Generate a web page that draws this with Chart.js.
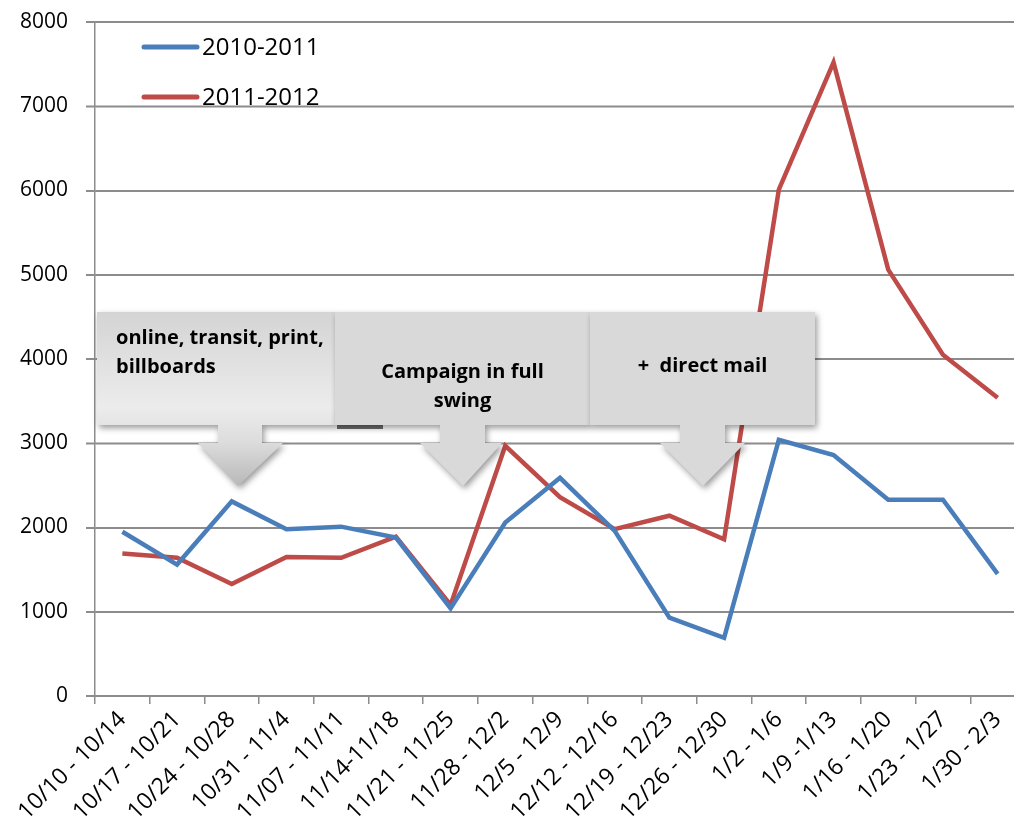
<!DOCTYPE html>
<html>
<head>
<meta charset="utf-8">
<script src="https://cdn.jsdelivr.net/npm/chart.js@4/dist/chart.umd.min.js"></script>
<style>
  body { margin: 0; overflow: hidden; background: #fff; }
  #wrap { position: absolute; left: 0; top: 0; width: 1030px; height: 835px; }
</style>
</head>
<body>
<div id="wrap"><canvas id="salesChart" width="1030" height="835"></canvas></div>
<script>
// weekly ranges on the x axis
const weeks = ['10/10 - 10/14', '10/17 - 10/21', '10/24 - 10/28', '10/31 - 11/4', '11/07 - 11/11',
    '11/14-11/18', '11/21 - 11/25', '11/28 - 12/2', '12/5 - 12/9', '12/12 - 12/16', '12/19 - 12/23',
    '12/26 - 12/30', '1/2 - 1/6', '1/9 -1/13', '1/16 - 1/20', '1/23 - 1/27', '1/30 - 2/3'];

const season1 = [1950, 1560, 2310, 1980, 2010, 1880, 1040, 2060, 2590, 1960, 930, 690, 3040, 2860, 2330, 2330, 1450];
const season2 = [1690, 1640, 1330, 1650, 1640, 1890, 1080, 2970, 2360, 1980, 2140, 1860, 6010, 7520, 5060, 4050, 3540];

const seriesNames = ['2010-2011', '2011-2012'];
const seriesColors = ['#4a7ebb', '#be4b48'];

const yMax = 8000;
const yStep = 1000;

const gridGray = '#8c8c8c';

// horizontal grid + left tick marks, drawn from the y scale ticks
const yGridPlugin = {
    id: 'yGrid',
    beforeDatasetsDraw(chart) {
        const ctx = chart.ctx;
        const ys = chart.scales.y;
        const area = chart.chartArea;
        ctx.save();
        ctx.strokeStyle = gridGray;
        ctx.lineWidth = 1.5;
        ys.ticks.forEach(t => {
            const py = Math.round(ys.getPixelForValue(t.value)) + 0.25;
            ctx.beginPath();
            ctx.moveTo(area.left - 9, py);
            ctx.lineTo(area.right, py);
            ctx.stroke();
        });
        ctx.restore();
    }
};

// legend drawn inside the plot, top left
const legendPlugin = {
    id: 'insideLegend',
    afterDraw(chart) {
        const ctx = chart.ctx;
        ctx.save();
        chart.data.datasets.forEach((ds, i) => {
            const y = 47 + i * 50;
            ctx.strokeStyle = ds.borderColor;
            ctx.lineWidth = 5;
            ctx.lineCap = 'round';
            ctx.beginPath();
            ctx.moveTo(144, y);
            ctx.lineTo(197, y);
            ctx.stroke();
            ctx.fillStyle = '#000';
            ctx.font = '24px "Open Sans"';
            ctx.textBaseline = 'middle';
            ctx.fillText(ds.label, 202, y + 1);
        });
        ctx.restore();
    }
};

// the three grey callouts with arrows
const callouts = [
    { x0: 97, x1: 335, stem: [218, 262], head: [198, 283], tip: 238, lines: ['online, transit, print,', 'billboards'], align: 'left', textY: 338, gradient: true },
    { x0: 335, x1: 590, stem: [440, 485], head: [420, 502], tip: 463, lines: ['Campaign in full', 'swing'], align: 'center', textY: 372, gradient: false },
    { x0: 590, x1: 815, stem: [680, 725], head: [660, 745], tip: 703, lines: ['+  direct mail'], align: 'center', textY: 366, gradient: false }
];

function calloutPath(ctx, c, top, bottom, headTop, tipY) {
    ctx.beginPath();
    ctx.moveTo(c.x0, top);
    ctx.lineTo(c.x1, top);
    ctx.lineTo(c.x1, bottom);
    ctx.lineTo(c.stem[1], bottom);
    ctx.lineTo(c.stem[1], headTop);
    ctx.lineTo(c.head[1], headTop);
    ctx.lineTo(c.tip, tipY);
    ctx.lineTo(c.head[0], headTop);
    ctx.lineTo(c.stem[0], headTop);
    ctx.lineTo(c.stem[0], bottom);
    ctx.lineTo(c.x0, bottom);
    ctx.closePath();
}

const calloutPlugin = {
    id: 'callouts',
    afterDatasetsDraw(chart) {
        const ctx = chart.ctx;
        const top = 312, bottom = 425, headTop = 443, tipY = 486;
        ctx.save();
        // odd dark shadow strip under the middle box
        ctx.fillStyle = 'rgba(60,60,60,0.75)';
        ctx.fillRect(337, 425, 46, 4);
        callouts.forEach(c => {
            let fill = '#d9d9d9';
            if (c.gradient) {
                const g = ctx.createLinearGradient(0, top, 0, tipY);
                g.addColorStop(0, '#d4d4d4');
                g.addColorStop(0.55, '#ececec');
                g.addColorStop(0.75, '#dcdcdc');
                g.addColorStop(1, '#b8b8b8');
                fill = g;
            }
            ctx.save();
            ctx.shadowColor = 'rgba(0,0,0,0.4)';
            ctx.shadowBlur = 6;
            ctx.shadowOffsetX = 2;
            ctx.shadowOffsetY = 3;
            ctx.fillStyle = fill;
            calloutPath(ctx, c, top, bottom, headTop, tipY);
            ctx.fill();
            ctx.restore();

            ctx.fillStyle = '#000';
            ctx.font = 'bold 20px "Open Sans"';
            ctx.textBaseline = 'middle';
            c.lines.forEach((t, k) => {
                if (c.align === 'left') {
                    ctx.textAlign = 'left';
                    ctx.fillText(t, 116, c.textY + k * 29);
                } else {
                    ctx.textAlign = 'center';
                    ctx.fillText(t, (c.x0 + c.x1) / 2, c.textY + k * 29);
                }
            });
        });
        ctx.restore();
    }
};

const ctx = document.getElementById('salesChart').getContext('2d');
const chart = new Chart(ctx, {
    type: 'line',
    data: {
        labels: weeks,
        datasets: [
            {
                label: seriesNames[0],
                data: season1,
                borderColor: seriesColors[0],
                backgroundColor: seriesColors[0],
                borderWidth: 4.5,
                pointRadius: 0,
                tension: 0
            },
            {
                label: seriesNames[1],
                data: season2,
                borderColor: seriesColors[1],
                backgroundColor: seriesColors[1],
                borderWidth: 4.5,
                pointRadius: 0,
                tension: 0
            }
        ]
    },
    options: {
        responsive: false,
        animation: false,
        layout: { padding: { top: 22, right: 5, left: 0, bottom: 0 } },
        plugins: {
            legend: { display: false },
            tooltip: { enabled: false }
        },
        scales: {
            x: {
                offset: true,
                grid: {
                    drawOnChartArea: false,
                    offset: true,
                    tickLength: 8,
                    color: gridGray,
                    lineWidth: 1.5
                },
                border: { color: gridGray, width: 1.5 },
                ticks: {
                    autoSkip: false,
                    minRotation: 45,
                    maxRotation: 45,
                    padding: 2,
                    color: '#000',
                    font: { family: 'Open Sans', size: 23 }
                },
                afterFit(scale) { scale.height = 139; }
            },
            y: {
                min: 0,
                max: yMax,
                grid: {
                    color: gridGray,
                    lineWidth: 1.5,
                    tickLength: 9
                },
                border: { color: gridGray, width: 1.5 },
                ticks: {
                    stepSize: yStep,
                    padding: 18,
                    color: '#000',
                    font: { family: 'Open Sans', size: 21 },
                    callback: v => String(v)
                },
                afterFit(scale) {
                    scale.width = 95;
                    scale.paddingTop = 0;
                    scale.paddingBottom = 0;
                }
            }
        }
    },
    plugins: [yGridPlugin, calloutPlugin, legendPlugin]
});
</script>
</body>
</html>
